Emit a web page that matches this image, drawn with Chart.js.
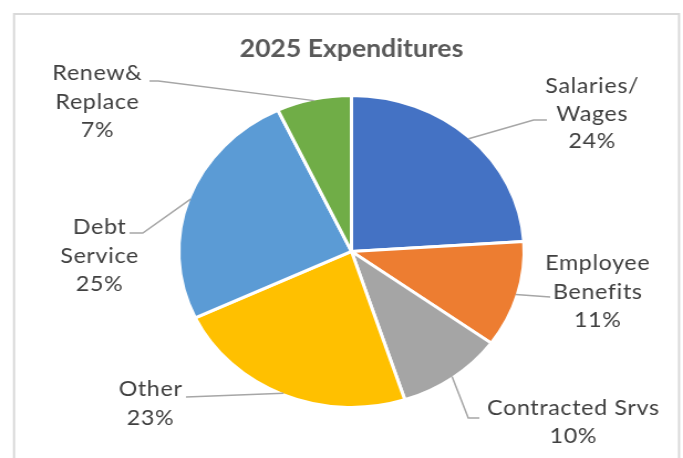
<!DOCTYPE html>
<html>
<head>
<meta charset="utf-8">
<title>2025 Expenditures</title>
<script src="https://cdn.jsdelivr.net/npm/chart.js@4/dist/chart.umd.min.js"></script>
<style>
  html, body { margin: 0; padding: 0; background: #fff; overflow: hidden; }
  /* the chart is drawn a bit narrow and then widened */
  #wrap { width: 617px; height: 458px; transform: scaleX(1.107); transform-origin: 0 0; }
</style>
</head>
<body>
<div id="wrap"><canvas id="expChart" width="617" height="458"></canvas></div>
<script>
const categories = ['Salaries/ Wages', 'Employee Benefits', 'Contracted Srvs', 'Other', 'Debt Service', 'Renew & Replace']
const labelLines = [['Salaries/', 'Wages'], ['Employee', 'Benefits'], ['Contracted Srvs'], ['Other'], ['Debt', 'Service'], ['Renew&', 'Replace']]
const shares = [24, 11, 10, 23, 25, 7]
const sliceColors = ['#4472C4', '#ED7D31', '#A5A5A5', '#FFC000', '#5B9BD5', '#70AD47']

// data label placement: text centre x, first baseline, line gap, leader bend + end
const labelLayout = [
  { cx: 535, top: 93, gap: 27.5, bend: [482, 120], end: [494, 120] },
  { cx: 540, top: 270, gap: 28.5, bend: null, end: [497, 297] },
  { cx: 518, top: 415, gap: 28, bend: [423, 418], end: [433, 418] },
  { cx: 136, top: 396, gap: 29, bend: null, end: [168, 397] },
  { cx: 90, top: 234, gap: 28.5, bend: [129, 233], end: [117, 233] },
  { cx: 88, top: 80, gap: 28.5, bend: [143, 81], end: [135, 81] },
]

const frameAndLabels = {
  id: 'frameAndLabels',
  beforeDraw(chart) {
    const ctx = chart.ctx
    ctx.save()
    ctx.strokeStyle = '#d9d9d9'
    ctx.lineWidth = 2
    ctx.strokeRect(12.7, 14, 600.7, 480)
    ctx.restore()
  },
  afterDatasetsDraw(chart) {
    const ctx = chart.ctx
    const arcs = chart.getDatasetMeta(0).data
    const total = shares.reduce((a, b) => a + b, 0)
    ctx.save()
    arcs.forEach((arc, i) => {
      const { x, y, startAngle, endAngle, outerRadius } =
        arc.getProps(['x', 'y', 'startAngle', 'endAngle', 'outerRadius'], true)
      const mid = (startAngle + endAngle) / 2
      const r = outerRadius - 1.5
      const lay = labelLayout[i]

      // leader line from the slice edge to its label
      ctx.strokeStyle = '#a6a6a6'
      ctx.lineWidth = 1.5
      ctx.beginPath()
      ctx.moveTo(x + Math.cos(mid) * r, y + Math.sin(mid) * r)
      if (lay.bend) ctx.lineTo(lay.bend[0], lay.bend[1])
      ctx.lineTo(lay.end[0], lay.end[1])
      ctx.stroke()

      const lines = [...labelLines[i], Math.round(shares[i] / total * 100) + '%']
      ctx.fillStyle = '#404040'
      ctx.font = '21px Lato'
      ctx.letterSpacing = '0.6px'
      ctx.textAlign = 'center'
      ctx.textBaseline = 'alphabetic'
      lines.forEach((t, k) => ctx.fillText(t, lay.cx, lay.top + k * lay.gap))
    })
    ctx.restore()
  },
}

new Chart(document.getElementById('expChart'), {
  type: 'pie',
  data: {
    labels: categories,
    datasets: [{
      data: shares,
      backgroundColor: sliceColors,
      borderColor: '#ffffff',
      borderWidth: 3,
      radius: 156,
    }],
  },
  options: {
    responsive: false,
    animation: false,
    layout: { padding: { top: 20, left: 99, right: 81, bottom: 29 } },
    plugins: {
      legend: { display: false },
      tooltip: { enabled: false },
      title: {
        display: true,
        text: '2025 Expenditures',
        color: '#595959',
        font: { family: 'Lato', size: 24, weight: 'bold', lineHeight: 1.2 },
        padding: { top: 15, bottom: 10 },
      },
    },
  },
  plugins: [frameAndLabels],
})
</script>
</body>
</html>
